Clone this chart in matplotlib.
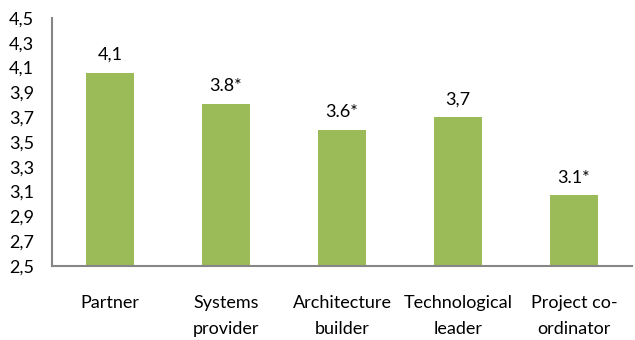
import matplotlib
matplotlib.use("Agg")
import matplotlib.pyplot as plt

plt.rcParams['font.family'] = ['Lato', 'DejaVu Sans']

categories = ["Partner", "Systems\nprovider", "Architecture\nbuilder", "Technological\nleader", "Project co-\nordinator"]
values = [4.06, 3.81, 3.60, 3.70, 3.07]
labels = ["4,1", "3.8*", "3.6*", "3,7", "3.1*"]
yticks = [2.5, 2.7, 2.9, 3.1, 3.3, 3.5, 3.7, 3.9, 4.1, 4.3, 4.5]
ytick_labels = ["2,5", "2,7", "2,9", "3,1", "3,3", "3,5", "3,7", "3,9", "4,1", "4,3", "4,5"]

fig = plt.figure(figsize=(6.35, 3.4), dpi=100)
ax = fig.add_axes([0.082, 0.218, 0.913, 0.729])
x = list(range(len(categories)))
ax.bar(x, [v - 2.5 for v in values], bottom=2.5, width=0.41, color="#9BBB59", zorder=2)
for xi, v, l in zip(x, values, labels):
    ax.annotate(l, (xi, v), xytext=(0, 7), textcoords="offset points",
                ha="center", va="bottom", fontsize=13, color="#000000")
ax.set_ylim(2.5, 4.5)
ax.set_xlim(-0.5, len(categories) - 0.5)
ax.set_yticks(yticks)
ax.set_yticklabels(ytick_labels, fontsize=13)
ax.set_xticks(x)
ax.set_xticklabels(categories, fontsize=13, linespacing=1.75)
ax.tick_params(axis="both", length=0)
ax.tick_params(axis="y", pad=13)
ax.tick_params(axis="x", pad=21)
for s in ["top", "right"]:
    ax.spines[s].set_visible(False)
for s in ["left", "bottom"]:
    ax.spines[s].set_color("#868686")
    ax.spines[s].set_linewidth(1.5)
fig.savefig("out.png", dpi=100)
